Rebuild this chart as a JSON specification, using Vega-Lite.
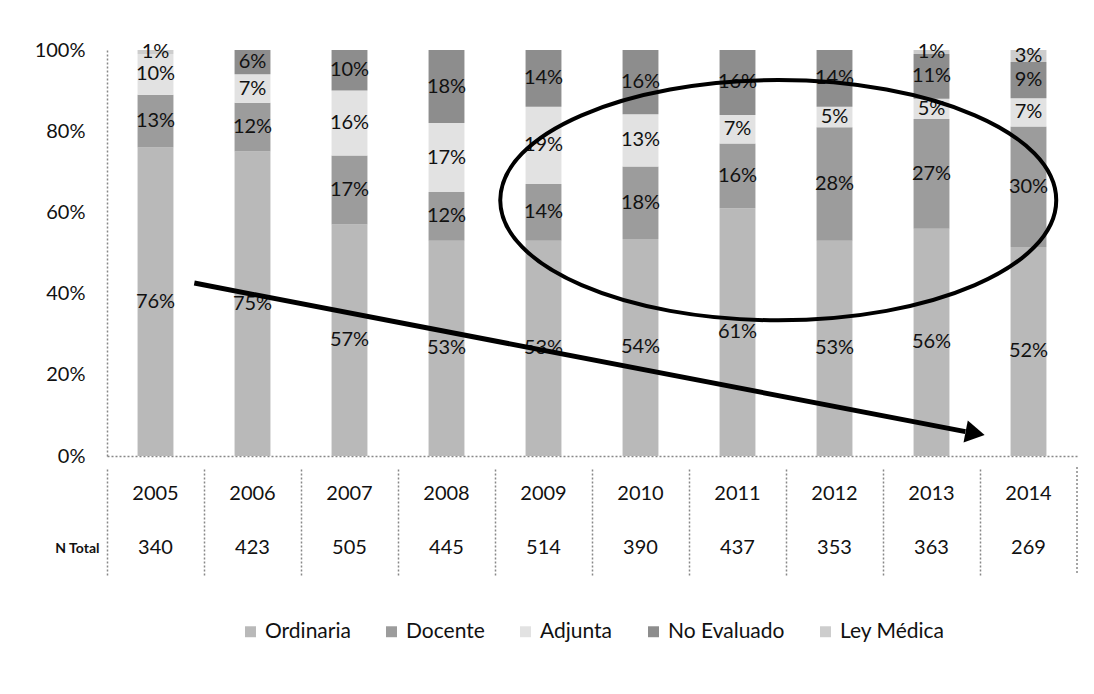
{
  "$schema": "https://vega.github.io/schema/vega-lite/v6.json",
  "background": "white",
  "padding": {"left": 34, "top": 40, "right": 10, "bottom": 5},
  "spacing": 0,
  "config": {
    "font": "Lato",
    "view": {"stroke": null},
    "text": {"font": "Lato"}
  },
  "datasets": {
    "dist": [
      {"anio": "2005", "tipo": "Ordinaria", "orden": 1, "pct": 76},
      {"anio": "2005", "tipo": "Docente", "orden": 2, "pct": 13},
      {"anio": "2005", "tipo": "Adjunta", "orden": 3, "pct": 10},
      {"anio": "2005", "tipo": "No Evaluado", "orden": 4, "pct": 0},
      {"anio": "2005", "tipo": "Ley Médica", "orden": 5, "pct": 1},
      {"anio": "2006", "tipo": "Ordinaria", "orden": 1, "pct": 75},
      {"anio": "2006", "tipo": "Docente", "orden": 2, "pct": 12},
      {"anio": "2006", "tipo": "Adjunta", "orden": 3, "pct": 7},
      {"anio": "2006", "tipo": "No Evaluado", "orden": 4, "pct": 6},
      {"anio": "2006", "tipo": "Ley Médica", "orden": 5, "pct": 0},
      {"anio": "2007", "tipo": "Ordinaria", "orden": 1, "pct": 57},
      {"anio": "2007", "tipo": "Docente", "orden": 2, "pct": 17},
      {"anio": "2007", "tipo": "Adjunta", "orden": 3, "pct": 16},
      {"anio": "2007", "tipo": "No Evaluado", "orden": 4, "pct": 10},
      {"anio": "2007", "tipo": "Ley Médica", "orden": 5, "pct": 0},
      {"anio": "2008", "tipo": "Ordinaria", "orden": 1, "pct": 53},
      {"anio": "2008", "tipo": "Docente", "orden": 2, "pct": 12},
      {"anio": "2008", "tipo": "Adjunta", "orden": 3, "pct": 17},
      {"anio": "2008", "tipo": "No Evaluado", "orden": 4, "pct": 18},
      {"anio": "2008", "tipo": "Ley Médica", "orden": 5, "pct": 0},
      {"anio": "2009", "tipo": "Ordinaria", "orden": 1, "pct": 53},
      {"anio": "2009", "tipo": "Docente", "orden": 2, "pct": 14},
      {"anio": "2009", "tipo": "Adjunta", "orden": 3, "pct": 19},
      {"anio": "2009", "tipo": "No Evaluado", "orden": 4, "pct": 14},
      {"anio": "2009", "tipo": "Ley Médica", "orden": 5, "pct": 0},
      {"anio": "2010", "tipo": "Ordinaria", "orden": 1, "pct": 54},
      {"anio": "2010", "tipo": "Docente", "orden": 2, "pct": 18},
      {"anio": "2010", "tipo": "Adjunta", "orden": 3, "pct": 13},
      {"anio": "2010", "tipo": "No Evaluado", "orden": 4, "pct": 16},
      {"anio": "2010", "tipo": "Ley Médica", "orden": 5, "pct": 0},
      {"anio": "2011", "tipo": "Ordinaria", "orden": 1, "pct": 61},
      {"anio": "2011", "tipo": "Docente", "orden": 2, "pct": 16},
      {"anio": "2011", "tipo": "Adjunta", "orden": 3, "pct": 7},
      {"anio": "2011", "tipo": "No Evaluado", "orden": 4, "pct": 16},
      {"anio": "2011", "tipo": "Ley Médica", "orden": 5, "pct": 0},
      {"anio": "2012", "tipo": "Ordinaria", "orden": 1, "pct": 53},
      {"anio": "2012", "tipo": "Docente", "orden": 2, "pct": 28},
      {"anio": "2012", "tipo": "Adjunta", "orden": 3, "pct": 5},
      {"anio": "2012", "tipo": "No Evaluado", "orden": 4, "pct": 14},
      {"anio": "2012", "tipo": "Ley Médica", "orden": 5, "pct": 0},
      {"anio": "2013", "tipo": "Ordinaria", "orden": 1, "pct": 56},
      {"anio": "2013", "tipo": "Docente", "orden": 2, "pct": 27},
      {"anio": "2013", "tipo": "Adjunta", "orden": 3, "pct": 5},
      {"anio": "2013", "tipo": "No Evaluado", "orden": 4, "pct": 11},
      {"anio": "2013", "tipo": "Ley Médica", "orden": 5, "pct": 1},
      {"anio": "2014", "tipo": "Ordinaria", "orden": 1, "pct": 52},
      {"anio": "2014", "tipo": "Docente", "orden": 2, "pct": 30},
      {"anio": "2014", "tipo": "Adjunta", "orden": 3, "pct": 7},
      {"anio": "2014", "tipo": "No Evaluado", "orden": 4, "pct": 9},
      {"anio": "2014", "tipo": "Ley Médica", "orden": 5, "pct": 3}
    ],
    "tabla": [
      {"anio": "2005", "n": 340},
      {"anio": "2006", "n": 423},
      {"anio": "2007", "n": 505},
      {"anio": "2008", "n": 445},
      {"anio": "2009", "n": 514},
      {"anio": "2010", "n": 390},
      {"anio": "2011", "n": 437},
      {"anio": "2012", "n": 353},
      {"anio": "2013", "n": 363},
      {"anio": "2014", "n": 269}
    ],
    "flecha": [
      {"ax": 0.9, "ay": 0.426},
      {"ax": 8.85, "ay": 0.06}
    ],
    "punta": [
      {"ax": 8.95, "ay": 0.056}
    ],
    "elipse": [
      {"ax": 6.92, "ay": 0.63}
    ]
  },
  "vconcat": [
    {
      "width": 970,
      "height": 406,
      "layer": [
        {
          "data": {"name": "dist"},
          "encoding": {
            "x": {"field": "anio", "type": "nominal", "sort": null,
                  "scale": {"paddingInner": 0.63, "paddingOuter": 0.315},
                  "axis": {"title": null, "labels": false, "ticks": false, "domainColor": "#888", "domainDash": [2, 2], "domainWidth": 1.5}},
            "order": {"field": "orden", "type": "quantitative"}
          },
          "layer": [
            {
              "mark": {"type": "bar"},
              "encoding": {
                "y": {"field": "pct", "type": "quantitative", "stack": "normalize",
                      "scale": {"domain": [0, 1]},
                      "axis": {"title": null, "format": ".0%", "values": [0, 0.2, 0.4, 0.6, 0.8, 1], "grid": false, "ticks": false,
                               "labelFontSize": 20, "labelColor": "#111", "labelPadding": 22, "labelFont": "Lato",
                               "domainColor": "#888", "domainDash": [2, 2], "domainWidth": 1.5}},
                "color": {"field": "tipo", "type": "nominal",
                          "scale": {"domain": ["Ordinaria", "Docente", "Adjunta", "No Evaluado", "Ley Médica"],
                                    "range": ["#b9b9b9", "#9c9c9c", "#e2e2e2", "#8d8d8d", "#cdcdcd"]},
                          "legend": {"title": null, "orient": "none", "direction": "horizontal", "legendX": 133, "legendY": 571,
                                     "symbolType": "square", "symbolSize": 120, "labelFontSize": 21, "labelFont": "Lato", "labelColor": "#111", "columnPadding": 30, "symbolStrokeWidth": 0}}
              }
            },
            {
              "transform": [{"filter": "datum.pct > 0"}],
              "mark": {"type": "text", "fontSize": 20, "color": "#111", "text": {"expr": "datum.pct + '%'"}},
              "encoding": {
                "y": {"field": "pct", "type": "quantitative", "stack": "normalize", "bandPosition": 0.5}
              }
            }
          ]
        },
        {
          "data": {"name": "flecha"},
          "mark": {"type": "line", "color": "black", "strokeWidth": 5},
          "encoding": {
            "x": {"field": "ax", "type": "quantitative", "scale": {"domain": [0, 10]}, "axis": null},
            "y": {"field": "ay", "type": "quantitative"}
          }
        },
        {
          "data": {"name": "punta"},
          "mark": {"type": "point", "shape": "triangle-right", "filled": true, "color": "black", "size": 500, "angle": 11, "opacity": 1},
          "encoding": {
            "x": {"field": "ax", "type": "quantitative", "scale": {"domain": [0, 10]}, "axis": null},
            "y": {"field": "ay", "type": "quantitative"}
          }
        },
        {
          "data": {"name": "elipse"},
          "mark": {"type": "point", "shape": "M -1 0 C -1 -0.2386 -0.5523 -0.432 0 -0.432 C 0.5523 -0.432 1 -0.2386 1 0 C 1 0.2386 0.5523 0.432 0 0.432 C -0.5523 0.432 -1 0.2386 -1 0 Z", "filled": false, "color": "black", "strokeWidth": 4, "size": 309136, "opacity": 1},
          "encoding": {
            "x": {"field": "ax", "type": "quantitative", "scale": {"domain": [0, 10]}, "axis": null},
            "y": {"field": "ay", "type": "quantitative"}
          }
        }
      ],
      "resolve": {"scale": {"x": "independent"}, "axis": {"x": "independent"}}
    },
    {
      "width": 970,
      "height": 108,
      "data": {"name": "tabla"},
      "layer": [
        {
          "mark": {"type": "text", "fontSize": 20, "color": "#111"},
          "encoding": {
            "x": {"field": "anio", "type": "nominal", "sort": null,
                  "scale": {"paddingInner": 0, "paddingOuter": 0},
                  "axis": {"title": null, "labels": false, "ticks": false, "domain": false, "grid": true, "bandPosition": 0,
                           "gridColor": "#888", "gridDash": [2, 2], "gridWidth": 1.5}},
            "y": {"datum": "Año", "type": "nominal",
                  "scale": {"domain": ["Año", "N Total"]},
                  "axis": {"title": null, "ticks": false, "domain": false, "labelExpr": "datum.value == 'N Total' ? 'N Total' : ''",
                           "labelFontWeight": "bold", "labelFontSize": 14, "labelColor": "#111", "labelPadding": 8}},
            "text": {"field": "anio"}
          }
        },
        {
          "mark": {"type": "text", "fontSize": 20, "color": "#111"},
          "encoding": {
            "x": {"field": "anio", "type": "nominal", "sort": null},
            "y": {"datum": "N Total", "type": "nominal"},
            "text": {"field": "n"}
          }
        },
        {
          "transform": [{"filter": "datum.anio == '2014'"}],
          "mark": {"type": "rule", "color": "#888", "strokeDash": [2, 2], "strokeWidth": 1.5},
          "encoding": {
            "x": {"field": "anio", "type": "nominal", "sort": null, "bandPosition": 1}
          }
        }
      ]
    }
  ]
}
